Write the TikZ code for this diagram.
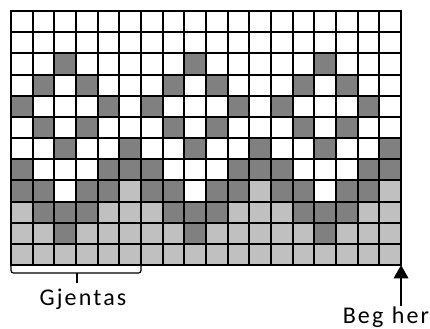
\documentclass[tikz,border=0pt]{standalone}
\usepackage{fontspec}
\setmainfont{Carlito}
\usepackage{xcolor}
\definecolor{DarkCell}{HTML}{808080}
\definecolor{LightCell}{HTML}{C0C0C0}
\colorlet{cell0}{white}
\colorlet{cell1}{DarkCell}
\colorlet{cell2}{LightCell}
\usetikzlibrary{arrows.meta}

\begin{document}
\begin{tikzpicture}[x=16.25pt,y=15.875pt]
  \useasboundingbox (-0.508,0.52) rectangle (19.336,-15.02);
  \foreach \pattrow [count=\r from 0] in {
      {0,0,0,0,0,0,0,0,0,0,0,0,0,0,0,0,0,0},
      {0,0,0,0,0,0,0,0,0,0,0,0,0,0,0,0,0,0},
      {0,0,1,0,0,0,0,0,1,0,0,0,0,0,1,0,0,0},
      {0,1,0,1,0,0,0,1,0,1,0,0,0,1,0,1,0,0},
      {1,0,0,0,1,0,1,0,0,0,1,0,1,0,0,0,1,0},
      {0,1,0,1,0,0,0,1,0,1,0,0,0,1,0,1,0,0},
      {0,0,1,0,0,1,0,0,1,0,0,1,0,0,1,0,0,1},
      {1,0,0,0,1,1,1,0,0,0,1,1,1,0,0,0,1,1},
      {1,1,0,1,1,2,1,1,0,1,1,2,1,1,0,1,1,2},
      {2,1,1,1,2,2,2,1,1,1,2,2,2,1,1,1,2,2},
      {2,2,1,2,2,2,2,2,1,2,2,2,2,2,1,2,2,2},
      {2,2,2,2,2,2,2,2,2,2,2,2,2,2,2,2,2,2}} {
    \foreach \v [count=\c from 0] in \pattrow
      \filldraw[fill=cell\v,line width=1.5pt] (\c,-\r) rectangle ++(1,-1);
  }
  \coordinate (repL) at (0,-12);
  \coordinate (repR) at (6,-12);
  \coordinate (repTip) at (3.05,-12.85);
  \draw[line width=0.9pt,rounded corners=2pt] (repL) -- (repL |- 0,-12.38) -- (repR |- 0,-12.38) -- (repR);
  \draw[line width=0.9pt] (repTip |- 0,-12.38) -- (repTip);
  \node[font=\fontsize{18}{20}\selectfont\addfontfeature{LetterSpace=9},anchor=base] (gjentas) at (3.32,-13.89) {Gjentas};
  \node[font=\fontsize{18}{20}\selectfont\addfontfeature{LetterSpace=9},anchor=base,inner sep=1pt] (beg) at (17.3,-14.78) {\spaceskip=0.35em\relax Beg her};
  \coordinate (start) at (18,-12);
  \draw[line width=1pt,-{Triangle[width=11pt,length=10pt]}] (beg.north -| start) -- (start);
\end{tikzpicture}
\end{document}
